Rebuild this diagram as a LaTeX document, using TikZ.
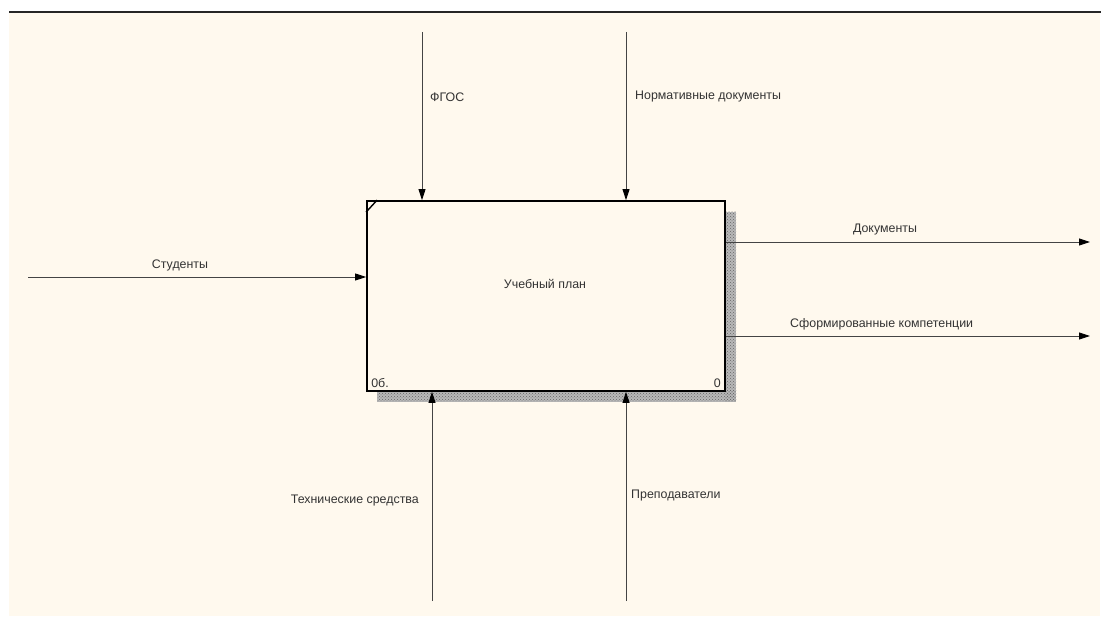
\documentclass[tikz,border=0pt]{standalone}
\usepackage{fontspec}
\setmainfont{Liberation Sans}
\usetikzlibrary{arrows.meta,patterns}
\definecolor{cream}{HTML}{FFF9EE}
\definecolor{linegray}{HTML}{444444}
\tikzset{
  flow/.style={draw=linegray, line width=0.9pt, -{Triangle[length=11pt,width=7pt,color=black]}},
  lbl/.style={font=\fontsize{12.4}{14}\selectfont, text=black!80, inner sep=0pt},
  func/.style={draw=black, line width=1.8pt, minimum width=358pt, minimum height=190pt, inner sep=0pt},
  shadowfill/.style={fill=black!30, pattern color=black!55, draw=none}
}
\begin{document}
\begin{tikzpicture}[x=1pt,y=-1pt]
\useasboundingbox (0,0) rectangle (1101,617);
\fill[white] (0,0) rectangle (1101,617);
\fill[cream] (9,13) rectangle (1100,616);
\draw[line width=1.6pt, black!85] (9,12) -- (1101,12);
% shadow
\fill[black!28] (725,212) rectangle (736,402);
\fill[black!28] (377,391) rectangle (736,402);
\fill[pattern=crosshatch dots, pattern color=black!60] (725,212) rectangle (736,402);
\fill[pattern=crosshatch dots, pattern color=black!60] (377,391) rectangle (736,402);
% box
\node[func, fill=cream] (box) at (546,296) {};
\draw[line width=1.4pt] ([yshift=-12pt]box.north west) -- ([xshift=11pt]box.north west);
\node[lbl] (title) at (545,284) {Учебный план};
\node[lbl, anchor=south west] (num) at ([xshift=5pt,yshift=4pt]box.south west) {0б.};
\node[lbl, anchor=south east] (nodeno) at ([xshift=-5pt,yshift=4pt]box.south east) {0};
% coordinates
\coordinate (c1) at (422,32);
\coordinate (c2) at (626,32);
\coordinate (in1) at (28,277);
\coordinate (o1) at (1090,242);
\coordinate (o2) at (1090,336);
\coordinate (m1) at (432,601);
\coordinate (m2) at (626,601);
% arrows
\draw[flow] (c1) -- (c1 |- box.north);
\draw[flow] (c2) -- (c2 |- box.north);
\draw[flow] (in1) -- (in1 -| box.west);
\draw[flow] (o1 -| box.east) -- (o1);
\draw[flow] (o2 -| box.east) -- (o2);
\draw[flow] (m1) -- (m1 |- box.south);
\draw[flow] (m2) -- (m2 |- box.south);
% labels
\node[lbl, anchor=west] (lfgos) at (430,97) {ФГОС};
\node[lbl, anchor=west] (lnorm) at (635,97) {Нормативные документы};
\node[lbl] (lstud) at (180,265) {Студенты};
\node[lbl] (ldoc) at (885,230) {Документы};
\node[lbl, anchor=west] (lcomp) at (790,324) {Сформированные компетенции};
\node[lbl, anchor=east] (ltech) at (419,501) {Технические средства};
\node[lbl, anchor=west] (lprep) at (631,496) {Преподаватели};
\end{tikzpicture}
\end{document}
